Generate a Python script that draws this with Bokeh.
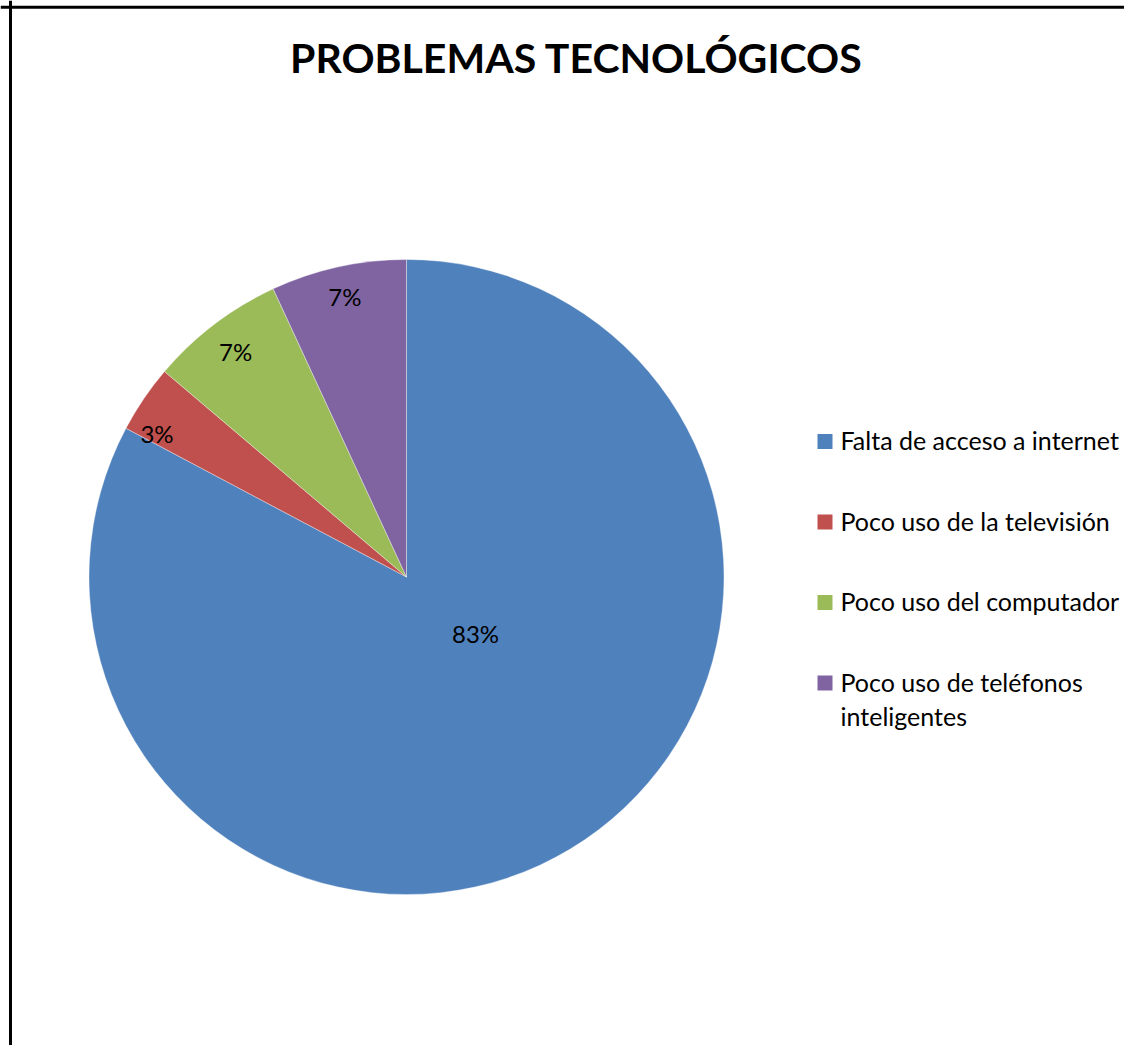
import math
from bokeh.plotting import figure
from bokeh.models import ColumnDataSource, Range1d, Span
from bokeh.core.properties import value
from bokeh.embed import file_html
from bokeh.resources import INLINE

# ---- data ----
title_text = "PROBLEMAS TECNOLÓGICOS"
categories = [
    "Falta de acceso a internet",
    "Poco uso de la televisión",
    "Poco uso del computador",
    "Poco uso de teléfonos\ninteligentes",
]
counts = [24, 1, 2, 2]
colors = ["#4F81BD", "#C0504D", "#9BBB59", "#8064A2"]

# ---- layout (image pixel units) ----
W, H = 1124, 1045
FONT = "Lato"
cx, cy_s = 406, 576.5          # pie centre (image coords)
R = 317.5
label_frac = [0.283, 0.905, 0.889, 0.902]
label_shift_deg = [-19.2, -4.4, 0.0, 0.0]
leg_x_sq, leg_x_txt = 824.5, 840
leg_y0, leg_dy = 441, 80.5
leg_line_h = 34


def sy(s):  # image y -> data y
    return H - s


p = figure(width=W, height=H, output_backend="svg", toolbar_location=None,
           x_range=Range1d(0, W), y_range=Range1d(0, H),
           x_axis_location=None, y_axis_location=None, min_border=0,
           outline_line_color=None, background_fill_color="white",
           border_fill_color="white")
p.grid.visible = False

# frame
p.add_layout(Span(location=10, dimension="height", line_color="black", line_width=3))
p.add_layout(Span(location=sy(6.7), dimension="width", line_color="black", line_width=3))

# pie
total = sum(counts)
fracs = [c / total for c in counts]
cum = [0.0]
for f in fracs:
    cum.append(cum[-1] + f)
starts = [math.pi / 2 - 2 * math.pi * cum[i + 1] for i in range(len(counts))]
ends = [math.pi / 2 - 2 * math.pi * cum[i] for i in range(len(counts))]
src = ColumnDataSource(dict(x=[cx] * len(counts), y=[sy(cy_s)] * len(counts),
                            start=starts, end=ends, color=colors))
p.wedge(x="x", y="y", radius=R, start_angle="start", end_angle="end",
        fill_color="color", line_color="white", line_width=0.6, line_alpha=0.6,
        source=src)

# percentage labels
lx, ly, lt = [], [], []
for i, f in enumerate(fracs):
    mid = 2 * math.pi * (cum[i] + f / 2) + math.radians(label_shift_deg[i])  # clockwise from top
    r = label_frac[i] * R
    lx.append(cx + r * math.sin(mid))
    ly.append(sy(cy_s - r * math.cos(mid)) + 1)
    lt.append(f"{round(f * 100)}%")
p.text(x=lx, y=ly, text=lt, text_align="center", text_baseline="alphabetic",
       text_font=value(FONT), text_font_size="24px", text_color="black")

# title
p.text(x=[576], y=[sy(56.5)], text=[title_text], text_align="center",
       text_baseline="alphabetic", text_font=value(FONT), text_font_style="bold",
       text_font_size="41px", text_color="black")

# legend
sq_x, sq_y, tx, ty, tt = [], [], [], [], []
for i, lab in enumerate(categories):
    yc = leg_y0 + i * leg_dy
    sq_x.append(leg_x_sq)
    sq_y.append(sy(yc))
    for j, line in enumerate(lab.split("\n")):
        tx.append(leg_x_txt)
        ty.append(sy(yc - 1.5 + j * leg_line_h))
        tt.append(line)
p.rect(x=sq_x, y=sq_y, width=15, height=15, fill_color=colors, line_color=None)
p.text(x=tx, y=ty, text=tt, text_align="left", text_baseline="alphabetic",
       text_font=value(FONT), text_font_size="25px", text_color="black")

open("out.html", "w").write(file_html(p, INLINE))
